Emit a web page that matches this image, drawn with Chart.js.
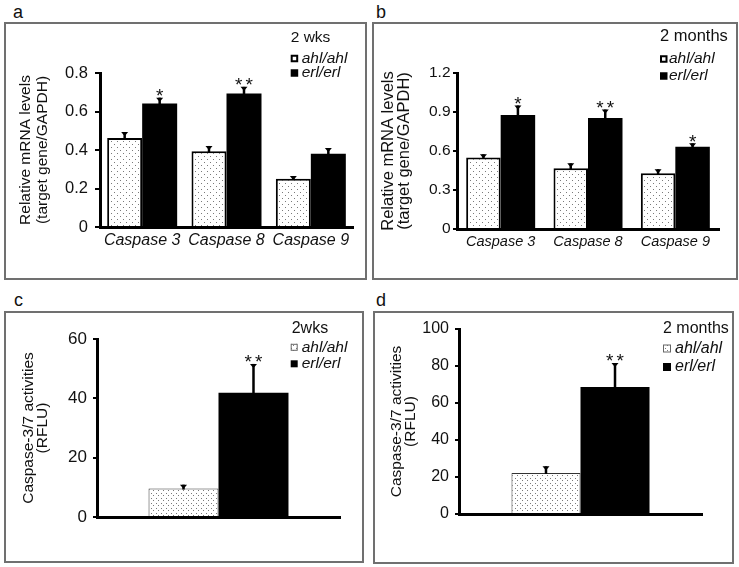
<!DOCTYPE html>
<html><head><meta charset="utf-8">
<script src="https://cdn.jsdelivr.net/npm/chart.js@4.4.1/dist/chart.umd.min.js"></script>
<style>
html,body{margin:0;padding:0;background:#fff;}
body{width:739px;height:567px;position:relative;overflow:hidden;font-family:'Liberation Sans',Arial,sans-serif;}
.frame{position:absolute;box-sizing:border-box;border:2px solid #707070;}
.lbl{position:absolute;font-size:18px;line-height:18px;color:#111;}
canvas{position:absolute;}
</style></head><body>
<div class="frame" style="left:4px;top:22px;width:363px;height:258px"></div>
<div class="frame" style="left:372px;top:22px;width:366px;height:258px"></div>
<div class="frame" style="left:4px;top:311px;width:360px;height:252px"></div>
<div class="frame" style="left:373px;top:311px;width:361px;height:253px"></div>
<div class="lbl" style="left:13px;top:3px">a</div>
<div class="lbl" style="left:376px;top:3px">b</div>
<div class="lbl" style="left:14px;top:291px">c</div>
<div class="lbl" style="left:376px;top:291px">d</div>
<canvas id="ca" width="361" height="256" style="left:5px;top:23px"></canvas>
<canvas id="cb" width="364" height="256" style="left:373px;top:23px"></canvas>
<canvas id="cc" width="358" height="250" style="left:5px;top:312px"></canvas>
<canvas id="cd" width="359" height="251" style="left:374px;top:312px"></canvas>
<script>
// ---------- DATA ----------
const seriesNames = ['ahl/ahl', 'erl/erl'];
const mrnaCategories = ['Caspase 3', 'Caspase 8', 'Caspase 9'];
const mrnaTitle = ['Relative mRNA levels', '(target gene/GAPDH)'];
const activityCategories = [''];
const activityTitle = ['Caspase-3/7 activities', '(RFLU)'];

// panel a: mRNA, 2 wks
const mrna2wkAhl = [0.462, 0.393, 0.251];
const mrna2wkAhlErr = [0.031, 0.028, 0.014];
const mrna2wkErl = [0.641, 0.693, 0.381];
const mrna2wkErlErr = [0.031, 0.035, 0.029];
const mrna2wkSig = ['*', '**', ''];
const mrna2wkTicks = [0, 0.2, 0.4, 0.6, 0.8];
const mrna2wkTickLabels = ['0', '0.2', '0.4', '0.6', '0.8'];

// panel b: mRNA, 2 months
const mrna2moAhl = [0.55, 0.467, 0.429];
const mrna2moAhlErr = [0.025, 0.038, 0.031];
const mrna2moErl = [0.876, 0.853, 0.633];
const mrna2moErlErr = [0.074, 0.066, 0.026];
const mrna2moSig = ['*', '**', '*'];
const mrna2moTicks = [0, 0.3, 0.6, 0.9, 1.2];
const mrna2moTickLabels = ['0', '0.3', '0.6', '0.9', '1.2'];

// panel c: activity, 2wks
const act2wkAhl = [9.6];
const act2wkAhlErr = [1.3];
const act2wkErl = [41.9];
const act2wkErlErr = [9.7];
const act2wkSig = ['**'];
const act2wkTicks = [0, 20, 40, 60];
const act2wkTickLabels = ['0', '20', '40', '60'];

// panel d: activity, 2 months
const act2moAhl = [22.2];
const act2moAhlErr = [3.6];
const act2moErl = [68.6];
const act2moErlErr = [13.0];
const act2moSig = ['**'];
const act2moTicks = [0, 20, 40, 60, 80, 100];
const act2moTickLabels = ['0', '20', '40', '60', '80', '100'];

// ---------- RENDERING ----------
const FONT = "'Liberation Sans', Arial, sans-serif";
Chart.defaults.font.family = FONT;
Chart.defaults.color = '#111';

function dotPattern(size, dots, color) {
  const t = document.createElement('canvas');
  t.width = size; t.height = size;
  const g = t.getContext('2d');
  g.fillStyle = '#fff'; g.fillRect(0, 0, size, size);
  g.fillStyle = color;
  dots.forEach(([x, y]) => g.fillRect(x, y, 1, 1));
  return document.createElement('canvas').getContext('2d').createPattern(t, 'repeat');
}

const decorPlugin = {
  id: 'decor',
  afterDatasetsDraw(chart, args, o) {
    const ctx = chart.ctx, y = chart.scales.y;
    ctx.save();
    chart.data.datasets.forEach((ds, i) => {
      const meta = chart.getDatasetMeta(i);
      meta.data.forEach((bar, j) => {
        const v = ds.data[j], e = ds.errors[j];
        const yv = y.getPixelForValue(v), ye = y.getPixelForValue(v + e);
        ctx.fillStyle = '#000';
        ctx.fillRect(bar.x - o.stem / 2, ye, o.stem, yv - ye + 1);
        ctx.beginPath();
        ctx.moveTo(bar.x - o.cap / 2, ye);
        ctx.lineTo(bar.x + o.cap / 2, ye);
        ctx.lineTo(bar.x + 1, ye + o.capH);
        ctx.lineTo(bar.x - 1, ye + o.capH);
        ctx.closePath(); ctx.fill();
        const s = ds.sig && ds.sig[j];
        if (s) {
          ctx.font = o.starSize + 'px ' + FONT;
          ctx.letterSpacing = o.starGap + 'px';
          ctx.textAlign = 'center'; ctx.textBaseline = 'alphabetic';
          ctx.fillStyle = '#111';
          ctx.fillText(s, bar.x + o.starGap / 2, ye - o.starLift + 0.57 * o.starSize);
          ctx.letterSpacing = '0px';
        }
      });
    });
    // legend
    const L = o.legend;
    ctx.textAlign = 'left'; ctx.textBaseline = 'middle'; ctx.fillStyle = '#111';
    ctx.font = L.titleSize + 'px ' + FONT;
    ctx.fillText(L.title, L.titleX, L.titleY);
    chart.data.datasets.forEach((ds, i) => {
      const my = L.ys[i], m = L.size, mx = L.markerX;
      if (i === 0) {
        if (L.style === 'outline') {
          ctx.fillStyle = '#fff'; ctx.fillRect(mx, my - m / 2, m, m);
          ctx.strokeStyle = '#000'; ctx.lineWidth = 2;
          ctx.strokeRect(mx + 1, my - m / 2 + 1, m - 2, m - 2);
        } else {
          ctx.fillStyle = ds.backgroundColor; ctx.fillRect(mx, my - m / 2, m, m);
          ctx.strokeStyle = '#666'; ctx.lineWidth = 1;
          ctx.strokeRect(mx + 0.5, my - m / 2 + 0.5, m - 1, m - 1);
        }
      } else {
        ctx.fillStyle = '#000'; ctx.fillRect(mx, my - m / 2, m, m);
      }
      ctx.fillStyle = '#111';
      ctx.font = 'italic ' + L.itemSize + 'px ' + FONT;
      ctx.fillText(ds.label, L.textX, my);
    });
    ctx.restore();
  }
};

function makePanel(p) {
  const pat = dotPattern(p.patSize, p.patDots, '#7a7a7a');
  new Chart(document.getElementById(p.id), {
    type: 'bar',
    data: {
      labels: p.categories,
      datasets: [
        { label: seriesNames[0], data: p.ahl, errors: p.ahlErr, sig: [],
          backgroundColor: pat, borderColor: p.ahlBorderColor, borderWidth: p.barBorder,
          borderSkipped: 'start', categoryPercentage: p.catPct, barPercentage: 1 },
        { label: seriesNames[1], data: p.erl, errors: p.erlErr, sig: p.sig,
          backgroundColor: '#000', borderColor: '#000', borderWidth: 0,
          categoryPercentage: p.catPct, barPercentage: 1 }
      ]
    },
    options: {
      responsive: false, animation: false, devicePixelRatio: 1,
      layout: { padding: { left: 0, top: p.padTop, right: p.padRight, bottom: 0 } },
      plugins: {
        legend: { display: false }, tooltip: { enabled: false },
        decor: { stem: 2.5, cap: 7, capH: 3, starSize: 19, starGap: 3, starLift: 6.5, legend: p.legend }
      },
      scales: {
        x: {
          type: 'category', offset: true, z: 1,
          grid: { display: false, drawTicks: false },
          border: { display: true, color: '#000', width: 3 },
          ticks: { display: p.showX, font: { size: p.xFont, style: 'italic' }, padding: p.xPad,
                   maxRotation: 0, autoSkip: false, color: '#111' },
          afterFit: s => { s.height = p.xHeight; }
        },
        y: {
          min: p.ticks[0], max: p.ticks[p.ticks.length - 1],
          afterBuildTicks: s => { s.ticks = p.ticks.map(v => ({ value: v })); },
          ticks: { callback: (v, i) => p.tickLabels[i], font: { size: p.tickFont },
                   padding: p.tickPad, color: '#111' },
          grid: { display: true, drawOnChartArea: false, drawTicks: true, tickLength: p.tickLen,
                  tickColor: '#000', tickWidth: 2, color: '#000', lineWidth: 2 },
          border: { display: true, color: '#000', width: 3 },
          title: { display: true, text: p.title, color: '#111',
                   font: { size: p.titleFont, lineHeight: p.titleLH + 'px' },
                   padding: { top: p.titlePad, bottom: 0 } },
          afterFit: s => { s.width = p.yWidth; }
        }
      }
    },
    plugins: [decorPlugin]
  });
}

makePanel({
  id: 'ca', categories: mrnaCategories, ahl: mrna2wkAhl, ahlErr: mrna2wkAhlErr,
  erl: mrna2wkErl, erlErr: mrna2wkErlErr, sig: mrna2wkSig,
  ticks: mrna2wkTicks, tickLabels: mrna2wkTickLabels, title: mrnaTitle,
  padTop: 50, padRight: 13, yWidth: 95, xHeight: 52,
  tickFont: 16.5, tickPad: 7, tickLen: 5, xFont: 16, xPad: 3.5, showX: true,
  titleFont: 15.5, titleLH: 17, titlePad: 12.5,
  catPct: 0.83, barBorder: 2, ahlBorderColor: '#000', patSize: 6, patDots: [[1, 1], [4, 4]],
  legend: { title: '2 wks', titleX: 285.7, titleY: 14.7, titleSize: 15.5, style: 'outline',
            markerX: 285.7, size: 7.5, textX: 296.7, ys: [35.5, 50], itemSize: 15.5 }
});

makePanel({
  id: 'cb', categories: mrnaCategories, ahl: mrna2moAhl, ahlErr: mrna2moAhlErr,
  erl: mrna2moErl, erlErr: mrna2moErlErr, sig: mrna2moSig,
  ticks: mrna2moTicks, tickLabels: mrna2moTickLabels, title: mrnaTitle,
  padTop: 50, padRight: 18, yWidth: 84, xHeight: 50,
  tickFont: 15.5, tickPad: 2.5, tickLen: 4, xFont: 14.5, xPad: 4, showX: true,
  titleFont: 16.5, titleLH: 16, titlePad: 7,
  catPct: 0.79, barBorder: 2, ahlBorderColor: '#000', patSize: 6, patDots: [[1, 1], [4, 4]],
  legend: { title: '2 months', titleX: 287, titleY: 13.7, titleSize: 16.5, style: 'outline',
            markerX: 287, size: 7.5, textX: 296, ys: [36, 53], itemSize: 15.5 }
});

makePanel({
  id: 'cc', categories: activityCategories, ahl: act2wkAhl, ahlErr: act2wkAhlErr,
  erl: act2wkErl, erlErr: act2wkErlErr, sig: act2wkSig,
  ticks: act2wkTicks, tickLabels: act2wkTickLabels, title: activityTitle,
  padTop: 27, padRight: 23, yWidth: 92, xHeight: 45,
  tickFont: 17, tickPad: 6, tickLen: 4, xFont: 16, xPad: 3, showX: false,
  titleFont: 15.5, titleLH: 14, titlePad: 17,
  catPct: 0.576, barBorder: 1, ahlBorderColor: '#333', patSize: 5, patDots: [[1, 1], [3, 3]],
  legend: { title: '2wks', titleX: 286.7, titleY: 16.3, titleSize: 16, style: 'pattern',
            markerX: 285.7, size: 7, textX: 296.7, ys: [35.3, 51.8], itemSize: 15.5 }
});

makePanel({
  id: 'cd', categories: activityCategories, ahl: act2moAhl, ahlErr: act2moAhlErr,
  erl: act2moErl, erlErr: act2moErlErr, sig: act2moSig,
  ticks: act2moTicks, tickLabels: act2moTickLabels, title: activityTitle,
  padTop: 17, padRight: 31, yWidth: 85, xHeight: 49,
  tickFont: 16, tickPad: 6, tickLen: 4, xFont: 16, xPad: 3, showX: false,
  titleFont: 15.5, titleLH: 14, titlePad: 16,
  catPct: 0.568, barBorder: 1, ahlBorderColor: '#333', patSize: 5, patDots: [[1, 1], [3, 3]],
  legend: { title: '2 months', titleX: 289, titleY: 16.3, titleSize: 16, style: 'pattern',
            markerX: 289, size: 8, textX: 301, ys: [36.5, 55], itemSize: 16 }
});
</script>
</body></html>
